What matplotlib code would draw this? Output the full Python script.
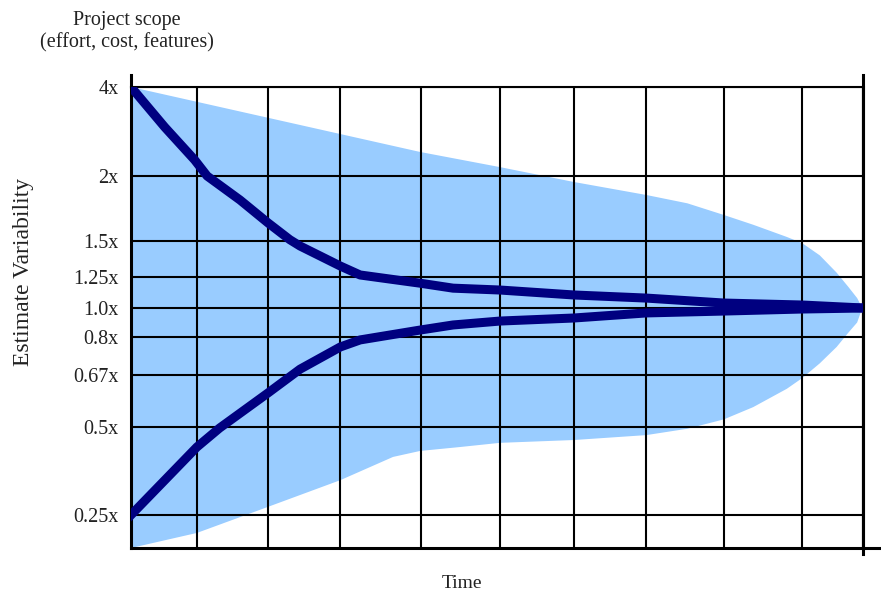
import numpy as np
import matplotlib
matplotlib.use("Agg")
import matplotlib.pyplot as plt

# ---------------- data ----------------
scale_labels = ["0.25x", "0.5x", "0.67x", "0.8x", "1.0x", "1.25x", "1.5x", "2x", "4x"]
scale_values = [0.25, 0.5, 0.67, 0.8, 1.0, 1.25, 1.5, 2.0, 4.0]

# vertical time grid (fraction of project time)
time_grid = [0.0, 0.090, 0.187, 0.286, 0.396, 0.504, 0.605, 0.704, 0.810, 0.917, 1.0]

# upper estimate curve
upper_t = [0.0, 0.046, 0.087, 0.104, 0.149, 0.187, 0.217, 0.231, 0.286, 0.313,
           0.395, 0.440, 0.504, 0.605, 0.704, 0.810, 0.917, 1.0]
upper_v = [4.0, 3.10, 2.36, 2.0, 1.815, 1.64, 1.51, 1.465, 1.326, 1.264,
           1.20, 1.16, 1.145, 1.105, 1.08, 1.04, 1.024, 1.0]

# lower estimate curve
lower_t = [0.0, 0.090, 0.121, 0.187, 0.231, 0.286, 0.313, 0.395, 0.440, 0.504,
           0.605, 0.704, 0.810, 0.917, 1.0]
lower_v = [0.25, 0.443, 0.497, 0.611, 0.69, 0.766, 0.79, 0.848, 0.883, 0.91,
           0.931, 0.966, 0.979, 0.993, 1.0]

# shaded cone of uncertainty
cone_top_t = [0.0, 0.395, 0.504, 0.605, 0.704, 0.760, 0.810, 0.850, 0.896, 0.917,
              0.941, 0.964, 0.980, 0.992, 0.999]
cone_top_v = [4.0, 2.54, 2.20, 1.954, 1.854, 1.79, 1.70, 1.625, 1.531, 1.485,
              1.40, 1.28, 1.17, 1.08, 1.0]
cone_bot_t = [0.0, 0.090, 0.187, 0.286, 0.358, 0.395, 0.449, 0.504, 0.605, 0.704,
              0.760, 0.810, 0.850, 0.896, 0.917, 0.941, 0.964, 0.980, 0.992, 0.999]
cone_bot_v = [0.125, 0.182, 0.273, 0.349, 0.415, 0.432, 0.443, 0.455, 0.463, 0.477,
              0.495, 0.525, 0.565, 0.625, 0.66, 0.71, 0.766, 0.83, 0.90, 1.0]

# axis layout (value -> relative vertical position), non-uniform scale of the original
axis_values = [0.125] + scale_values
axis_pos = [0, 33, 121, 173, 211, 240, 271, 307, 372, 461]

# ---------------- plot ----------------
serif = ["Liberation Serif", "DejaVu Serif"]
fig = plt.figure(figsize=(8.81, 5.94), dpi=100)
ax = fig.add_axes([131 / 881, 46 / 594, 732 / 881, 461 / 594])


def fwd(v):
    return np.interp(v, axis_values, axis_pos)


def inv(p):
    return np.interp(p, axis_pos, axis_values)


ax.set_yscale("function", functions=(fwd, inv))
ax.set_ylim(axis_values[0], axis_values[-1])
ax.set_xlim(0, 1)

cone_x = np.concatenate([cone_top_t, cone_bot_t[::-1]])
cone_y = np.concatenate([cone_top_v, cone_bot_v[::-1]])
ax.fill(cone_x, cone_y, color="#99CCFF", lw=0, zorder=1)

ax.set_xticks(time_grid)
ax.set_xticklabels([])
ax.set_yticks(scale_values)
ax.set_yticklabels(scale_labels, fontfamily=serif, fontsize=14.5, color="#222222")
ax.minorticks_off()
ax.tick_params(axis="both", length=0)
ax.tick_params(axis="y", pad=9)
ax.grid(True, color="black", lw=1.5, zorder=2)
ax.set_axisbelow(False)

ax.plot(upper_t, upper_v, color="#000080", lw=6.5, zorder=4, solid_joinstyle="round")
ax.plot(lower_t, lower_v, color="#000080", lw=6.5, zorder=4, solid_joinstyle="round")

for s in ["left", "bottom", "right"]:
    ax.spines[s].set_linewidth(2.2)
ax.spines["top"].set_linewidth(1.5)

# extended frame lines
ax.plot([0, 0], [1.0, 1.026], transform=ax.transAxes, color="black", lw=2.2, clip_on=False)
ax.plot([1, 1], [-0.012, 1.026], transform=ax.transAxes, color="black", lw=2.2, clip_on=False)
ax.plot([1, 1.03], [0, 0], transform=ax.transAxes, color="black", lw=2.2, clip_on=False)

fig.text(127 / 881, 1 - 21 / 594, "Project scope", ha="center", va="center",
         fontfamily=serif, fontsize=14.5, color="#222222")
fig.text(127 / 881, 1 - 43 / 594, "(effort, cost, features)", ha="center", va="center",
         fontfamily=serif, fontsize=14.5, color="#222222")
fig.text(24 / 881, 1 - 272 / 594, "Estimate Variability", ha="center", va="center",
         rotation=90, fontfamily=serif, fontsize=17, color="#222222")
fig.text(462 / 881, 1 - 583 / 594, "Time", ha="center", va="center",
         fontfamily=serif, fontsize=14, color="#222222")

fig.savefig("out.png", dpi=100)
